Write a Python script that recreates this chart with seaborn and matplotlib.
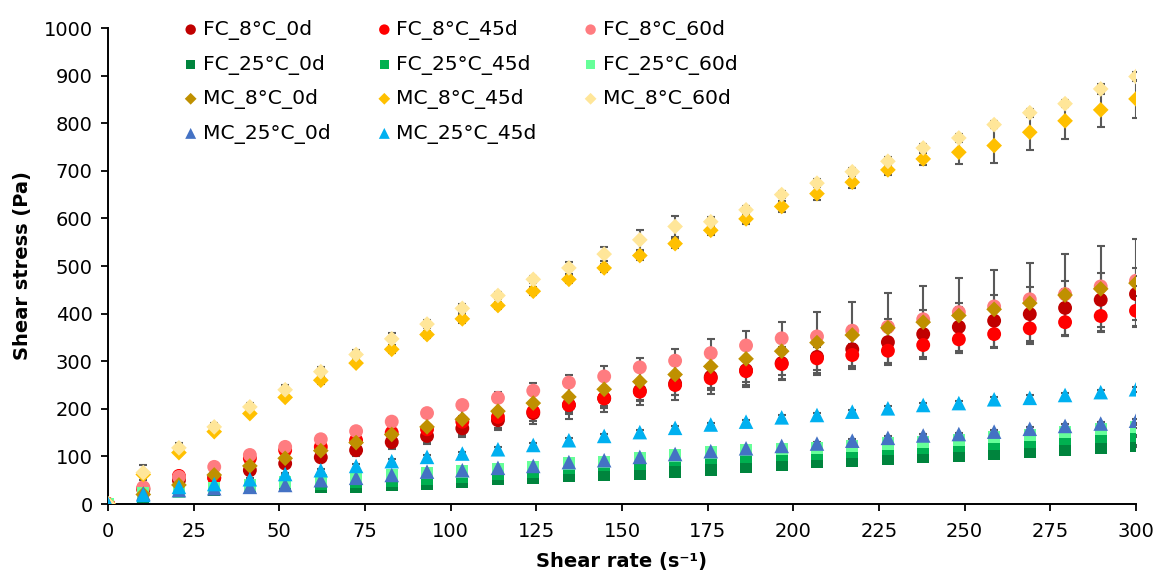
import numpy as np
import pandas as pd
import matplotlib
matplotlib.use("Agg")
import matplotlib.pyplot as plt
import seaborn as sns

# ---------------- data ----------------
shear_rate = [0, 10.3, 20.7, 31.0, 41.4, 51.7, 62.1, 72.4, 82.8, 93.1, 103.4, 113.8, 124.1, 134.5, 144.8,
              155.2, 165.5, 175.9, 186.2, 196.6, 206.9, 217.2, 227.6, 237.9, 248.3, 258.6, 269.0, 279.3, 289.7, 300.0]

fc_8_0d = [0, 30, 50, 55, 71, 85, 98, 113, 130, 143, 159, 176, 191, 208, 222, 238, 253, 267, 281, 296,
           309, 325, 340, 357, 372, 385, 399, 412, 429, 441]
fc_8_45d = [0, 33, 59, 55, 96, 113, 120, 134, 150, 157, 173, 183, 194, 208, 222, 236, 250, 264, 279, 294,
            306, 313, 322, 334, 346, 357, 369, 382, 395, 406]
fc_8_60d = [0, 35, 57, 78, 103, 120, 136, 153, 173, 191, 208, 223, 238, 255, 268, 287, 301, 317, 333, 348,
            352, 364, 372, 388, 403, 415, 430, 441, 457, 469]
fc_25_0d = [0, 15, 25, 29, 33, 38, 35, 37, 40, 43, 46, 52, 55, 59, 61, 64, 68, 71, 77, 83,
            89, 91, 94, 98, 101, 105, 109, 113, 118, 122]
fc_25_45d = [0, 18, 27, 31, 36, 42, 42, 46, 49, 52, 57, 64, 68, 75, 82, 85, 92, 96, 99, 103,
             106, 110, 115, 117, 122, 126, 131, 137, 140, 143]
fc_25_60d = [0, 22, 25, 33, 40, 46, 50, 55, 60, 65, 68, 73, 77, 85, 89, 96, 102, 108, 114, 115,
             117, 122, 127, 131, 134, 140, 145, 152, 157, 162]
mc_8_0d = [0, 20, 40, 61, 80, 96, 112, 129, 146, 162, 178, 195, 212, 225, 241, 257, 272, 289, 305, 321,
           339, 355, 370, 382, 396, 409, 422, 439, 452, 464]
mc_8_45d = [0, 62, 108, 152, 190, 224, 260, 296, 325, 356, 389, 417, 447, 472, 496, 522, 547, 575, 599, 625,
            652, 676, 702, 725, 739, 753, 781, 805, 828, 851]
mc_8_60d = [0, 66, 118, 162, 204, 240, 278, 314, 347, 378, 411, 438, 472, 496, 525, 555, 583, 593, 618, 650,
            674, 698, 720, 748, 769, 797, 822, 841, 872, 898]
mc_25_0d = [0, 22, 29, 33, 36, 40, 50, 55, 61, 68, 71, 76, 80, 88, 92, 99, 105, 111, 117, 122,
            127, 133, 139, 144, 147, 152, 158, 164, 169, 175]
mc_25_45d = [0, 19, 36, 42, 52, 63, 71, 80, 90, 99, 106, 115, 124, 134, 143, 151, 160, 167, 173, 182,
             187, 194, 201, 208, 212, 220, 223, 229, 235, 241]

# standard deviations (error bars)
err_fc_8_0d = [0, 8, 6, 6, 8, 8, 10, 12, 12, 14, 15, 16, 16, 18, 20, 22, 25, 28, 30, 33,
               38, 42, 48, 50, 50, 55, 56, 57, 57, 55]
err_fc_8_45d = [0, 5, 4, 5, 5, 6, 8, 8, 10, 10, 12, 12, 12, 14, 16, 18, 20, 20, 22, 22,
                24, 24, 26, 26, 28, 28, 30, 30, 32, 32]
err_fc_8_60d = [0, 3, 3, 4, 4, 5, 5, 5, 6, 6, 6, 7, 7, 8, 8, 8, 9, 9, 10, 10,
                10, 10, 10, 10, 10, 10, 10, 10, 10, 10]
err_fc_25_0d = [0, 2, 2, 2, 2, 2, 2, 3, 3, 3, 3, 3, 3, 3, 3, 3, 3, 3, 3, 3,
                3, 3, 3, 3, 3, 3, 3, 3, 3, 3]
err_fc_25_45d = [0, 2, 2, 2, 2, 2, 2, 3, 3, 3, 3, 3, 3, 3, 3, 3, 3, 3, 3, 3,
                 3, 3, 3, 3, 3, 3, 3, 3, 3, 3]
err_fc_25_60d = [0, 2, 2, 2, 2, 2, 2, 3, 3, 3, 3, 3, 3, 3, 3, 3, 3, 3, 3, 3,
                 3, 3, 3, 3, 3, 3, 3, 3, 3, 3]
err_mc_8_0d = [0, 5, 8, 10, 12, 15, 18, 22, 30, 36, 37, 40, 43, 46, 48, 50, 53, 57, 59, 61,
               64, 69, 74, 77, 78, 82, 85, 87, 91, 92]
err_mc_8_45d = [0, 4, 5, 5, 6, 6, 7, 7, 8, 8, 8, 8, 8, 8, 9, 10, 10, 10, 11, 12,
                13, 13, 10, 13, 24, 36, 37, 38, 37, 40]
err_mc_8_60d = [0, 15, 11, 9, 9, 9, 9, 9, 12, 9, 9, 8, 8, 13, 14, 21, 22, 10, 8, 8,
                8, 8, 8, 8, 8, 8, 8, 8, 11, 10]
err_mc_25_0d = [0, 2, 2, 2, 2, 2, 3, 3, 3, 3, 3, 3, 3, 3, 3, 3, 3, 3, 3, 3,
                3, 3, 3, 3, 3, 3, 4, 4, 4, 4]
err_mc_25_45d = [0, 3, 3, 3, 3, 3, 3, 4, 4, 4, 4, 4, 4, 4, 4, 4, 4, 4, 4, 4,
                 4, 4, 4, 4, 4, 4, 5, 5, 5, 5]

labels = ["FC_8°C_0d", "FC_8°C_45d", "FC_8°C_60d",
          "FC_25°C_0d", "FC_25°C_45d", "FC_25°C_60d",
          "MC_8°C_0d", "MC_8°C_45d", "MC_8°C_60d",
          "MC_25°C_0d", "MC_25°C_45d"]
values = [fc_8_0d, fc_8_45d, fc_8_60d, fc_25_0d, fc_25_45d, fc_25_60d,
          mc_8_0d, mc_8_45d, mc_8_60d, mc_25_0d, mc_25_45d]
errors = [err_fc_8_0d, err_fc_8_45d, err_fc_8_60d, err_fc_25_0d, err_fc_25_45d, err_fc_25_60d,
          err_mc_8_0d, err_mc_8_45d, err_mc_8_60d, err_mc_25_0d, err_mc_25_45d]

# ---------------- styles ----------------
colors = ["#C00000", "#FF0000", "#FF7C80",
          "#00843D", "#00B050", "#66FF99",
          "#BF9000", "#FFC000", "#FFE699",
          "#4472C4", "#00B0F0"]
markers = ["o", "o", "o", "s", "s", "s", "D", "D", "D", "^", "^"]
sizes = [100, 100, 100, 78, 78, 78, 64, 64, 64, 110, 110]

sns.set_style("ticks")
plt.rcParams["font.family"] = ["DejaVu Sans"]
plt.rcParams["text.color"] = "black"
plt.rcParams["axes.labelcolor"] = "black"

fig = plt.figure(figsize=(11.57, 5.72), dpi=100)
ax = fig.add_axes([108 / 1157, 1 - 504 / 572, 1028 / 1157, 476 / 572])

for lab, vals, err, col, mk, sz in zip(labels, values, errors, colors, markers, sizes):
    ax.errorbar(shear_rate, vals, yerr=err, fmt="none", ecolor="#595959",
                elinewidth=1.5, capsize=3.2, capthick=1.5, zorder=2)
for i, (lab, vals, col, mk, sz) in enumerate(zip(labels, values, colors, markers, sizes)):
    sns.scatterplot(x=shear_rate, y=vals, marker=mk, color=col, s=sz,
                    edgecolor="none", linewidth=0, ax=ax, zorder=3 + i * 0.01, label=lab)

ax.set_xlim(0, 300)
ax.set_ylim(0, 1000)
ax.set_xticks(np.arange(0, 301, 25))
ax.set_yticks(np.arange(0, 1001, 100))
ax.tick_params(axis="both", labelsize=14, length=5, width=1.3, color="black", labelcolor="black", direction="out")
ax.tick_params(axis="x", pad=8)
ax.tick_params(axis="y", pad=6)
for sp in ["top", "right"]:
    ax.spines[sp].set_visible(False)
for sp in ["left", "bottom"]:
    ax.spines[sp].set_linewidth(1.4)
    ax.spines[sp].set_color("black")

ax.set_xlabel("Shear rate (s⁻¹)", fontsize=14, fontweight="bold", labelpad=8)
ax.set_ylabel("Shear stress (Pa)", fontsize=14, fontweight="bold", labelpad=8)

h, l = ax.get_legend_handles_labels()
order = [0, 3, 6, 9, 1, 4, 7, 10, 2, 5, 8]
leg = ax.legend([h[i] for i in order], [l[i] for i in order], ncol=3, loc="upper left",
                bbox_to_anchor=(0.0745, 1.017), frameon=False, fontsize=14.6,
                handlelength=0.6, handletextpad=0.3, columnspacing=2.35,
                labelspacing=0.72, markerscale=0.75, borderaxespad=0, borderpad=0)

fig.savefig("out.png", dpi=100)
